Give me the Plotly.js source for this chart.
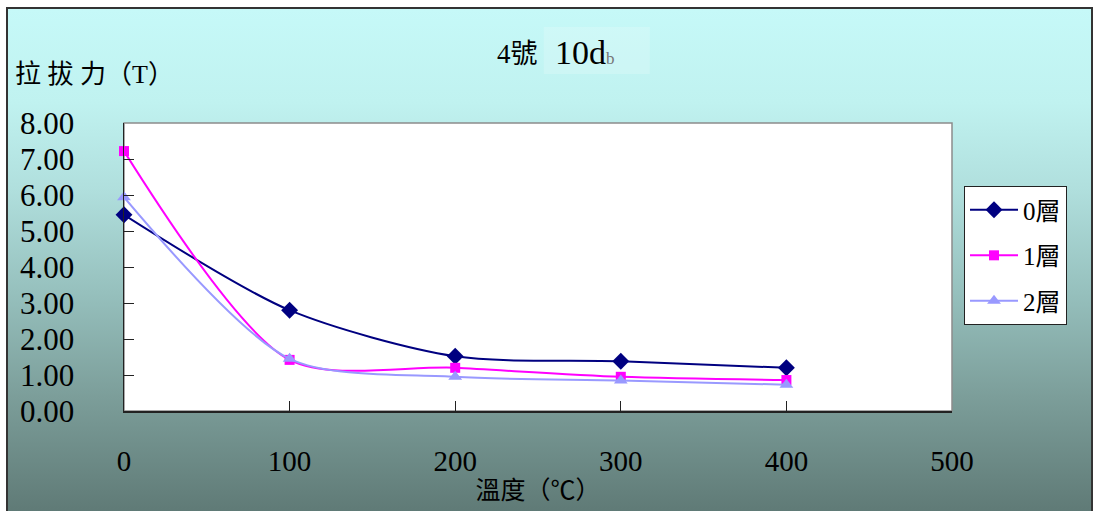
<!DOCTYPE html>
<html>
<head>
<meta charset="utf-8">
<script src="https://cdn.plot.ly/plotly-3.0.1.min.js"></script>
<style>
  html, body { margin: 0; padding: 0; background: #ffffff; }
  #frame {
    position: absolute; left: 6px; top: 7px; width: 1087px; height: 520px;
    border: 2px solid #333; box-sizing: border-box;
    background: linear-gradient(to bottom, #c6f9f8 0%, #c0f2f0 18%, #b0dfdd 35%, #96c0bd 55%, #7c9e9a 75%, #5c7672 100%);
  }
  #chart { position: absolute; left: 0; top: 0; width: 1096px; height: 511px; }
</style>
</head>
<body>
<div id="frame"></div>
<div id="chart"></div>
<script>
// Pull-out force (T) against temperature (°C) for three layer counts
const temperature = [0, 100, 200, 300, 400];
const layer0 = [5.45, 2.80, 1.52, 1.38, 1.20];
const layer1 = [7.22, 1.42, 1.20, 0.95, 0.86];
const layer2 = [5.94, 1.45, 0.95, 0.85, 0.73];
const seriesNames = ['0層', '1層', '2層'];
const yTicks = [0, 1, 2, 3, 4, 5, 6, 7, 8];
const xTicks = [0, 100, 200, 300, 400, 500];

const serif = '"Liberation Serif", "Noto Sans CJK TC", serif';

function series(y, name, color, symbol, size) {
  return {
    x: temperature, y: y, name: name, legendgroup: name,
    type: 'scatter', mode: 'lines+markers',
    line: { color: color, width: 2, shape: 'spline', smoothing: 0.8 },
    marker: { color: color, symbol: symbol, size: size },
    cliponaxis: false
  };
}

const traces = [
  series(layer0, seriesNames[0], '#000080', 'diamond', 13),
  series(layer1, seriesNames[1], '#ff00ff', 'square', 10),
  series(layer2, seriesNames[2], '#9999ff', 'triangle-up', 12)
];

const layout = {
  width: 1096, height: 511,
  margin: { l: 124, r: 144, t: 123, b: 100 },
  paper_bgcolor: 'rgba(0,0,0,0)',
  plot_bgcolor: '#ffffff',
  font: { family: serif, color: '#000' },
  showlegend: true,
  legend: {
    x: 1.0145, xanchor: 'left', y: 0.781, yanchor: 'top',
    bgcolor: '#ffffff', bordercolor: '#222', borderwidth: 1,
    font: { family: serif, size: 25, color: '#000' },
    tracegroupgap: 10, itemwidth: 48
  },
  xaxis: {
    range: [0, 500], tickvals: xTicks, ticktext: xTicks.map(String),
    ticks: 'inside', ticklen: 10, tickcolor: '#222', tickwidth: 1,
    showline: true, linecolor: '#222', linewidth: 1.5,
    showgrid: false, zeroline: false,
    tickfont: { family: serif, size: 29 }, ticklabelstandoff: 24,
    title: { text: '溫度（℃）', font: { family: serif, size: 25 }, standoff: 0 }
  },
  yaxis: {
    range: [0, 8], tickvals: yTicks, ticktext: yTicks.map(v => v.toFixed(2)),
    ticks: 'inside', ticklen: 10, tickcolor: '#222', tickwidth: 1,
    showline: true, linecolor: '#222', linewidth: 1.5,
    showgrid: false, zeroline: false,
    tickfont: { family: serif, size: 31 }, ticklabelstandoff: 42
  },
  shapes: [
    { type: 'rect', xref: 'paper', yref: 'paper', x0: 0, x1: 1, y0: 0, y1: 1,
      line: { color: '#8c8c8c', width: 1.5 }, layer: 'below' },
    { type: 'rect', xref: 'paper', yref: 'paper', x0: 0.507, x1: 0.635, y0: 1.170, y1: 1.333,
      fillcolor: 'rgba(255,255,255,0.18)', line: { width: 0 }, layer: 'below' }
  ],
  annotations: [
    { text: '4號', xref: 'paper', yref: 'paper', x: 0.503, y: 1.24, xanchor: 'right', yanchor: 'middle',
      showarrow: false, font: { family: serif, size: 27 } },
    { text: '10d<span style="font-size:17px;color:#777">b</span>', xref: 'paper', yref: 'paper',
      x: 0.518, y: 1.245, xanchor: 'left', yanchor: 'middle',
      showarrow: false, font: { family: serif, size: 34 } },
    { text: '拉 拔 力（T）', xref: 'paper', yref: 'paper', x: -0.134, y: 1.167, xanchor: 'left', yanchor: 'middle',
      showarrow: false, font: { family: serif, size: 26 } }
  ]
};

Plotly.newPlot('chart', traces, layout, { displayModeBar: false, staticPlot: true });
</script>
</body>
</html>
